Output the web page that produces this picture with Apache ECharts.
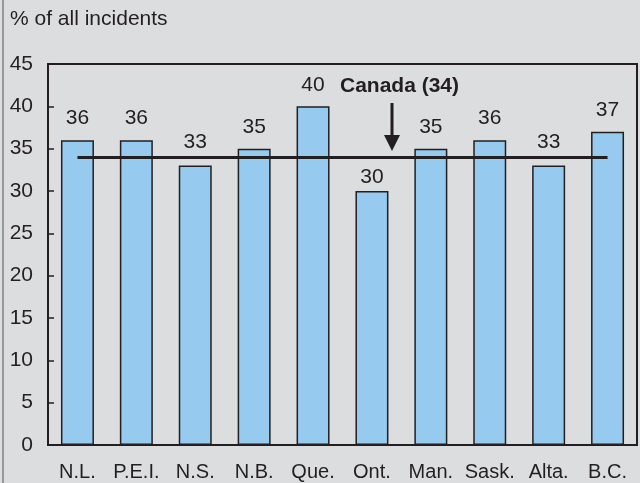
<!DOCTYPE html>
<html>
<head>
<meta charset="utf-8">
<script src="https://cdn.jsdelivr.net/npm/echarts@6/dist/echarts.min.js"></script>
<style>
  html, body { margin: 0; padding: 0; background: #dcddde; }
  #main { width: 640px; height: 483px; }
</style>
</head>
<body>
<div id="main"></div>
<script>
var provinces = ['N.L.', 'P.E.I.', 'N.S.', 'N.B.', 'Que.', 'Ont.', 'Man.', 'Sask.', 'Alta.', 'B.C.'];
var shares = [36, 36, 33, 35, 40, 30, 35, 36, 33, 37];
var canadaAvg = 34;
var yTicks = [0, 5, 10, 15, 20, 25, 30, 35, 40, 45];

var dark = '#231f20';
var font = 'Liberation Sans, Arial, sans-serif';

// value labels are nudged so they do not sit on the Canada line
function labelGap(v) {
    if (v <= canadaAvg - 3) return 3;
    if (v < canadaAvg) return 13;
    return 11;
}

var barData = shares.map(function (v) {
    return { value: v, label: { distance: labelGap(v) } };
});

var myChart = echarts.init(document.getElementById('main'));

var option = {
    backgroundColor: '#dcddde',
    animation: false,
    textStyle: { fontFamily: font },
    grid: {
        left: 48, right: 3, top: 64, bottom: 38,
        outerBoundsMode: 'none',
        containLabel: false,
        show: true,
        borderColor: dark,
        borderWidth: 2,
        backgroundColor: 'transparent'
    },
    graphic: [
        // outer frame line on the left
        { type: 'line', shape: { x1: 3, y1: 0, x2: 3, y2: 483 }, style: { stroke: '#555', lineWidth: 1 } },
        { type: 'text', left: 10, top: 9, style: { text: '% of all incidents', font: '21px ' + font, fill: dark } },
        { type: 'text', left: 340, top: 76, style: { text: 'Canada (34)', font: 'bold 21px ' + font, fill: dark } },
        { type: 'line', shape: { x1: 392, y1: 103, x2: 392, y2: 138 }, style: { stroke: dark, lineWidth: 3 } },
        { type: 'polygon', shape: { points: [[384, 135], [400, 135], [392, 151]] }, style: { fill: dark } }
    ],
    xAxis: {
        type: 'category',
        data: provinces,
        axisLine: { show: true, lineStyle: { color: dark, width: 2 } },
        axisTick: { show: false },
        axisLabel: { color: dark, fontSize: 20, margin: 17, interval: 0 }
    },
    yAxis: {
        type: 'value',
        min: 0, max: 45, interval: 5,
        axisLine: { show: true, lineStyle: { color: dark, width: 2 } },
        axisTick: { show: true, inside: true, length: 6, lineStyle: { color: dark, width: 1.5 } },
        splitLine: { show: false },
        axisLabel: {
            color: dark, fontSize: 21, margin: 15,
            formatter: function (v) { return yTicks.indexOf(v) >= 0 ? String(v) : ''; }
        }
    },
    series: [{
        type: 'bar',
        data: barData,
        barWidth: '56%',
        itemStyle: { color: '#96caee', borderColor: dark, borderWidth: 1.5 },
        label: { show: true, position: 'top', distance: 11, color: dark, fontSize: 21 },
        markLine: {
            silent: true,
            symbol: 'none',
            label: { show: false },
            lineStyle: { color: dark, width: 3, type: 'solid' },
            data: [[
                { coord: [provinces[0], canadaAvg] },
                { coord: [provinces[provinces.length - 1], canadaAvg] }
            ]]
        }
    }]
};

myChart.setOption(option);
</script>
</body>
</html>
